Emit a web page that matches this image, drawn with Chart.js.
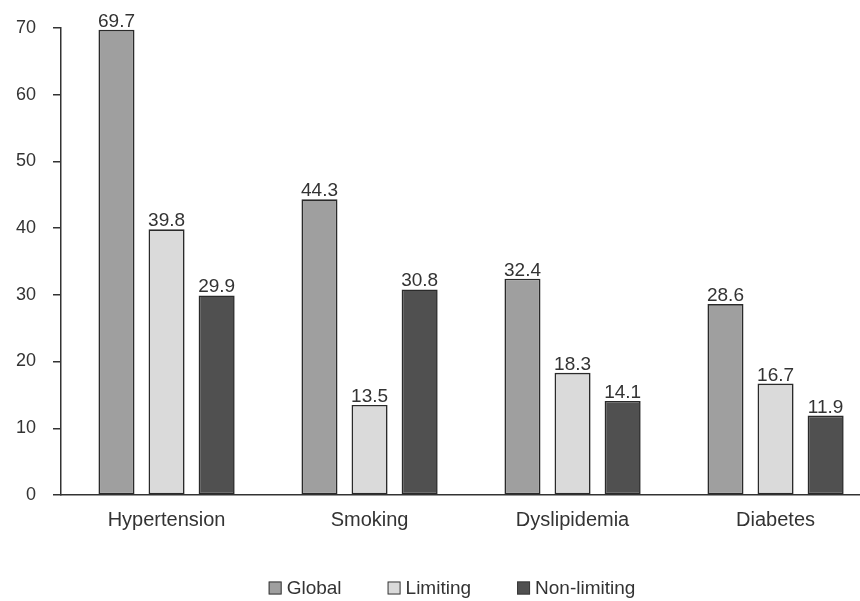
<!DOCTYPE html>
<html>
<head>
<meta charset="utf-8">
<script src="https://cdn.jsdelivr.net/npm/chart.js@4.4.1/dist/chart.umd.min.js"></script>
<style>
  html, body { margin: 0; padding: 0; background: #ffffff; }
  #wrap { width: 860px; height: 601px; }
</style>
</head>
<body>
<div id="wrap"><canvas id="chart" width="860" height="601"></canvas></div>
<script>
// Prevalence of risk factors by group
const categories = ['Hypertension', 'Smoking', 'Dyslipidemia', 'Diabetes'];
const seriesNames = ['Global', 'Limiting', 'Non-limiting'];
const globalValues = [69.7, 44.3, 32.4, 28.6];
const limitingValues = [39.8, 13.5, 18.3, 16.7];
const nonLimitingValues = [29.9, 30.8, 14.1, 11.9];
const yTicks = [0, 10, 20, 30, 40, 50, 60, 70];

const FONT = '"Liberation Sans", Arial, Helvetica, sans-serif';
const TEXT = '#333333';
const seriesColors = ['#9f9f9f', '#dadada', '#505050'];
const seriesValues = [globalValues, limitingValues, nonLimitingValues];

const datasets = seriesNames.map((name, s) => ({
  label: name,
  data: seriesValues[s].map((v, i) => ({ x: i, y: v })),
  backgroundColor: seriesColors[s],
  borderColor: '#2a2a2a',
  borderWidth: 1.6,
  borderSkipped: false,
  categoryPercentage: 0.74,
  barPercentage: 0.72
}));

// value printed above each bar
const valueLabels = {
  id: 'valueLabels',
  afterDatasetsDraw(chart) {
    const ctx = chart.ctx;
    ctx.save();
    ctx.font = '19px ' + FONT;
    ctx.fillStyle = TEXT;
    ctx.textAlign = 'center';
    ctx.textBaseline = 'alphabetic';
    chart.data.datasets.forEach((ds, di) => {
      const meta = chart.getDatasetMeta(di);
      meta.data.forEach((bar, i) => {
        ctx.fillText(ds.data[i].y.toFixed(1), bar.x, bar.y - 3);
      });
    });
    ctx.restore();
  }
};

// legend row under the axis
const bottomLegend = {
  id: 'bottomLegend',
  afterDraw(chart) {
    const ctx = chart.ctx;
    const box = 13, gapText = 5, gapItem = 46, cy = 588;
    ctx.save();
    ctx.font = '19px ' + FONT;
    ctx.textBaseline = 'middle';
    ctx.textAlign = 'left';
    const widths = chart.data.datasets.map(ds => box + gapText + ctx.measureText(ds.label).width);
    const total = widths.reduce((a, b) => a + b, 0) + gapItem * (widths.length - 1);
    let x = 452 - total / 2;
    chart.data.datasets.forEach((ds, i) => {
      ctx.fillStyle = ds.backgroundColor;
      ctx.fillRect(x, cy - box / 2, box, box);
      ctx.strokeStyle = '#3a3a3a';
      ctx.lineWidth = 1;
      ctx.strokeRect(x + 0.5, cy - box / 2 + 0.5, box - 1, box - 1);
      ctx.fillStyle = TEXT;
      ctx.fillText(ds.label, x + box + gapText, cy + 1);
      x += widths[i] + gapItem;
    });
    ctx.restore();
  }
};

new Chart(document.getElementById('chart'), {
  type: 'bar',
  data: { datasets },
  options: {
    responsive: false,
    animation: false,
    layout: { padding: { top: 26, left: 0, right: 0, bottom: 0 } },
    plugins: {
      legend: { display: false },
      tooltip: { enabled: false }
    },
    scales: {
      x: {
        type: 'linear',
        offset: false,
        min: -0.52,
        max: 3.416,
        afterBuildTicks: scale => { scale.ticks = categories.map((c, i) => ({ value: i })); },
        afterFit: scale => { scale.height = 106; },
        ticks: {
          callback: v => categories[v],
          autoSkip: false,
          maxRotation: 0,
          padding: 13,
          color: TEXT,
          font: { family: FONT, size: 20 }
        },
        grid: { display: true, drawOnChartArea: false, drawTicks: false, offset: false },
        border: { display: true, color: '#333333', width: 1.5 }
      },
      y: {
        min: 0,
        max: 70,
        afterBuildTicks: scale => { scale.ticks = yTicks.map(v => ({ value: v })); },
        afterFit: scale => { scale.width = 61; },
        ticks: {
          padding: 17,
          color: TEXT,
          font: { family: FONT, size: 18 }
        },
        grid: { drawOnChartArea: false, drawTicks: true, tickLength: 8, color: '#333333', lineWidth: 1.5 },
        border: { display: true, color: '#333333', width: 1.5 }
      }
    }
  },
  plugins: [valueLabels, bottomLegend]
});
</script>
</body>
</html>
